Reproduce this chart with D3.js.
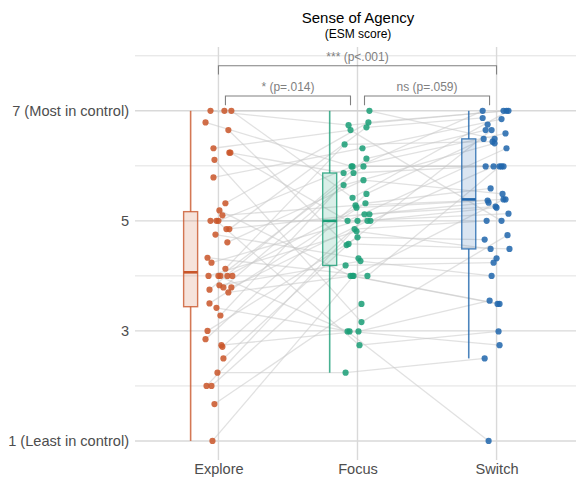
<!DOCTYPE html>
<html>
<head>
<meta charset="utf-8">
<script src="https://cdn.jsdelivr.net/npm/d3@7"></script>
<style>
  html, body { margin: 0; padding: 0; background: #fff; }
  svg { display: block; font-family: "Liberation Sans", Arial, sans-serif; }
</style>
</head>
<body>
<div id="chart"></div>
<script>
// ---------------- DATA ----------------
const categories = ["Explore", "Focus", "Switch"];
const colors = ["#C9562A", "#1B9E77", "#2166AC"];

const yTickValues = [1, 3, 5, 7];
const yTickLabels = ["1 (Least in control)", "3", "5", "7 (Most in control)"];

// one entry per participant (same order in every array); null = no response
const exploreVals = [7.0,7.0,7.0,6.79,6.65,6.32,6.24,6.24,6.11,5.79,5.32,5.19,5.10,5.0,5.0,5.0,4.85,4.85,4.75,4.61,4.33,4.24,4.13,4.0,4.0,4.0,4.0,4.0,3.83,3.79,3.79,3.75,3.70,3.50,3.42,3.28,3.0,2.85,2.74,2.71,2.50,2.24,2.0,2.0,1.67,1.0];
const focusVals   = [6.74,7.0,5.42,5.99,4.56,6.65,5.87,5.0,3.16,6.32,6.79,4.0,5.28,5.0,2.74,5.99,5.12,6.70,4.32,5.74,4.0,5.0,6.39,4.81,2.99,5.99,5.24,null,4.27,5.65,5.0,6.13,4.0,5.32,2.99,5.87,4.70,5.49,2.99,5.12,4.58,2.24,4.85,4.19,3.49,4.0];
const switchVals  = [7.0,6.49,7.0,5.99,6.65,5.0,7.0,6.32,4.74,6.85,7.0,3.49,5.39,5.99,2.99,6.59,5.26,6.87,4.32,5.49,5.99,5.13,6.44,4.49,1.0,5.99,5.37,6.75,4.0,6.41,5.24,6.65,3.49,5.59,2.74,5.99,4.66,6.49,3.55,5.33,4.49,2.50,5.0,4.24,null,5.39];

// horizontal jitter of each point, in 1/140ths of the category step
const exploreJit = [-8,6,13,-13,10,-5,11,12,-4,-5,7,1,4,-8,-2,0,8,11,-3,9,-11,-7,7,-10,0,2,9,14,1,5,13,-9,10,-9,-2,2,-11,-13,3,4,5,-1,-12,-7,-4,-6];
const focusJit   = [-9,12,-5,-6,-11,-7,-14,-10,4,5,11,-7,-2,13,2,-5,7,9,1,6,10,0,-13,-1,-10,6,-1,0,3,-14,10,9,-5,8,-8,-4,0,9,1,12,-9,-12,-3,-12,4,-4];
const switchJit  = [7,-2,12,7,-5,5,-14,10,11,5,10,1,9,-3,2,9,-1,-14,0,6,3,12,-4,-6,-8,5,-9,-9,-5,-2,0,-11,3,-6,3,-11,-12,-13,-7,-8,13,-12,-10,-3,0,7];

const seriesVals = [exploreVals, focusVals, switchVals];
const seriesJit = [exploreJit, focusJit, switchJit];

const comparisons = [
  { from: "Explore", to: "Switch", label: "*** (p<.001)", level: 0 },
  { from: "Explore", to: "Focus",  label: "* (p=.014)",   level: 1 },
  { from: "Focus",   to: "Switch", label: "ns (p=.059)",  level: 1 }
];

// ---------------- LAYOUT ----------------
const W = 576, H = 478;
const panel = { left: 135, right: 580, top: 47, bottom: 458 };

const svg = d3.select("#chart").append("svg")
  .attr("width", W).attr("height", H);

const x = d3.scalePoint().domain(categories)
  .range([panel.left, panel.right]).padding(0.6);
const y = d3.scaleLinear().domain([0.69, 8.16])
  .range([panel.bottom, panel.top]);
const jitUnit = x.step() / 140;

// ---------------- GRID ----------------
const grid = svg.append("g");
grid.selectAll("line.minor").data([2, 4, 6, 8]).enter().append("line")
  .attr("x1", panel.left).attr("x2", W)
  .attr("y1", d => y(d)).attr("y2", d => y(d))
  .attr("stroke", "#dedede").attr("stroke-width", 0.9);
grid.selectAll("line.major").data(yTickValues).enter().append("line")
  .attr("x1", panel.left).attr("x2", W)
  .attr("y1", d => y(d)).attr("y2", d => y(d))
  .attr("stroke", "#d9d9d9").attr("stroke-width", 1.4);
grid.selectAll("line.v").data(categories).enter().append("line")
  .attr("x1", d => x(d)).attr("x2", d => x(d))
  .attr("y1", panel.top).attr("y2", panel.bottom + 2)
  .attr("stroke", "#d9d9d9").attr("stroke-width", 1.4);

// ---------------- AXES ----------------
const axisFont = 14.6;
const yAxis = d3.axisLeft(y).tickValues(yTickValues)
  .tickFormat((d, i) => yTickLabels[i]).tickSize(0).tickPadding(6);
const gy = svg.append("g").attr("transform", `translate(${panel.left},0)`).call(yAxis);
gy.select(".domain").remove();
gy.selectAll("text").attr("font-size", axisFont).attr("fill", "#4d4d4d")
  .attr("font-family", "Liberation Sans, Arial, sans-serif");

const xAxis = d3.axisBottom(x).tickSize(0).tickPadding(6);
const gx = svg.append("g").attr("transform", `translate(0,${panel.bottom})`).call(xAxis);
gx.select(".domain").remove();
gx.selectAll("text").attr("font-size", axisFont).attr("fill", "#4d4d4d")
  .attr("font-family", "Liberation Sans, Arial, sans-serif");

// ---------------- PAIRED LINES ----------------
const px = (ci, i) => x(categories[ci]) + seriesJit[ci][i] * jitUnit;
const segs = [];
for (let ci = 0; ci < categories.length - 1; ci++) {
  seriesVals[ci].forEach((v, i) => {
    const w = seriesVals[ci + 1][i];
    if (v != null && w != null) {
      segs.push({ x1: px(ci, i), y1: y(v), x2: px(ci + 1, i), y2: y(w) });
    }
  });
}
svg.append("g").selectAll("line").data(segs).enter().append("line")
  .attr("x1", d => d.x1).attr("y1", d => d.y1)
  .attr("x2", d => d.x2).attr("y2", d => d.y2)
  .attr("stroke", "#c8c8c8").attr("stroke-opacity", 0.55).attr("stroke-width", 1.3);

// ---------------- BOXPLOTS ----------------
const boxOffset = -x.step() * 0.2, boxW = 14;
categories.forEach((cat, ci) => {
  const vals = seriesVals[ci].filter(v => v != null).sort(d3.ascending);
  const q1 = d3.quantile(vals, 0.25), med = d3.quantile(vals, 0.5), q3 = d3.quantile(vals, 0.75);
  const iqr = q3 - q1;
  const lo = d3.min(vals.filter(v => v >= q1 - 1.5 * iqr));
  const hi = d3.max(vals.filter(v => v <= q3 + 1.5 * iqr));
  const cx = x(cat) + boxOffset;
  const g = svg.append("g");
  g.append("line").attr("x1", cx).attr("x2", cx).attr("y1", y(hi)).attr("y2", y(q3))
    .attr("stroke", colors[ci]).attr("stroke-opacity", 0.8).attr("stroke-width", 1.6);
  g.append("line").attr("x1", cx).attr("x2", cx).attr("y1", y(q1)).attr("y2", y(lo))
    .attr("stroke", colors[ci]).attr("stroke-opacity", 0.8).attr("stroke-width", 1.6);
  g.append("rect").attr("x", cx - boxW / 2).attr("width", boxW)
    .attr("y", y(q3)).attr("height", y(q1) - y(q3))
    .attr("fill", colors[ci]).attr("fill-opacity", 0.17)
    .attr("stroke", colors[ci]).attr("stroke-opacity", 0.8).attr("stroke-width", 1.4);
  g.append("line").attr("x1", cx - boxW / 2).attr("x2", cx + boxW / 2)
    .attr("y1", y(med)).attr("y2", y(med))
    .attr("stroke", colors[ci]).attr("stroke-width", 2.6);
});

// ---------------- POINTS ----------------
categories.forEach((cat, ci) => {
  const pts = seriesVals[ci].map((v, i) => ({ v, i })).filter(d => d.v != null);
  svg.append("g").selectAll("circle").data(pts).enter().append("circle")
    .attr("cx", d => px(ci, d.i)).attr("cy", d => y(d.v)).attr("r", 3.1)
    .attr("fill", colors[ci]).attr("fill-opacity", 0.86);
});

// ---------------- SIGNIFICANCE BRACKETS ----------------
const bracketY = [7.82, 7.27];
const bracketDrop = [0.16, 0.17];
const labelY = [7.98, 7.43];
const inset = [0, 7];
const br = svg.append("g");
comparisons.forEach(c => {
  const x1 = x(c.from) + inset[c.level], x2 = x(c.to) - inset[c.level];
  const yy = y(bracketY[c.level]), yd = y(bracketY[c.level] - bracketDrop[c.level]);
  br.append("path")
    .attr("d", `M${x1},${yd}V${yy}H${x2}V${yd}`)
    .attr("fill", "none").attr("stroke", "#808080").attr("stroke-width", 1.1);
  br.append("text").attr("x", (x1 + x2) / 2).attr("y", y(labelY[c.level]))
    .attr("text-anchor", "middle").attr("dominant-baseline", "central")
    .attr("font-size", 12).attr("fill", "#808080").text(c.label);
});

// ---------------- TITLE ----------------
const tx = 358;
svg.append("text").attr("x", tx).attr("y", 17).attr("text-anchor", "middle")
  .attr("dominant-baseline", "central").attr("font-size", 15).attr("fill", "#000")
  .text("Sense of Agency");
svg.append("text").attr("x", tx).attr("y", 34).attr("text-anchor", "middle")
  .attr("dominant-baseline", "central").attr("font-size", 12).attr("fill", "#000")
  .text("(ESM score)");
</script>
</body>
</html>
